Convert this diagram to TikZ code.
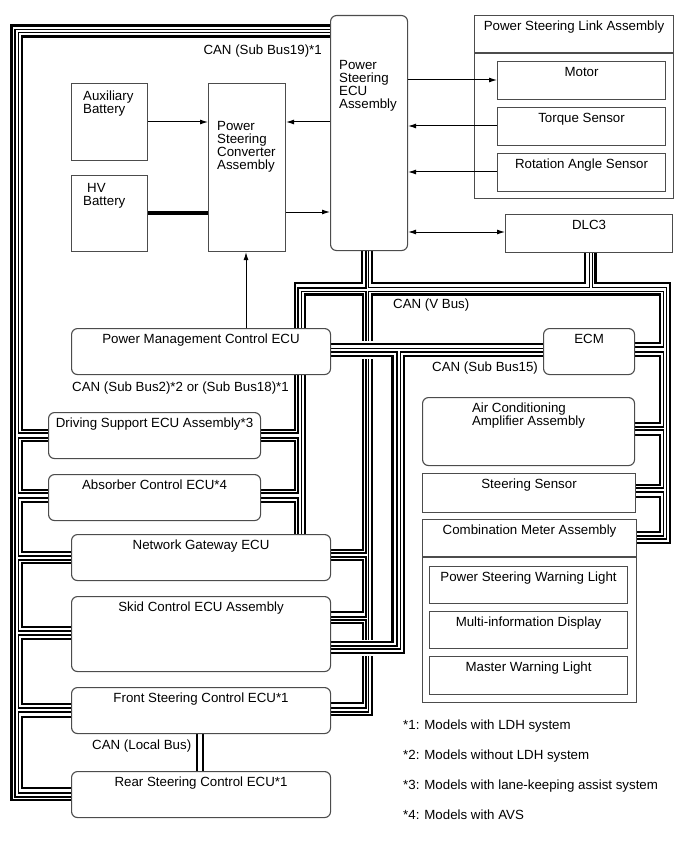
\documentclass[tikz,border=0pt]{standalone}
\usepackage{fontspec}
\setmainfont{Liberation Sans}
\usetikzlibrary{positioning,arrows.meta,backgrounds}

\tikzset{
  box/.style={draw=black!70, fill=white, line width=1.1pt, inner sep=0pt, anchor=north west},
  ecu/.style={box, rounded corners=6pt},
  txt/.style={inner sep=0pt, anchor=north, font=\fontsize{13.3}{13}\selectfont},
  wire/.style={line width=1pt, -{Latex[length=8pt,width=5pt]}},
  canh/.style={line width=2.6pt},
  canl/.style={line width=1.1pt},
}

\begin{document}
\begin{tikzpicture}[x=1pt, y=-1pt]
  \useasboundingbox (0,0) rectangle (689,853);

  % boxes
  \node[ecu, minimum width=77, minimum height=235] (psecu) at (330,15) {};
  \node[box, minimum width=199, minimum height=183] (pslink) at (474,15) {};
  \draw[draw=black!70, line width=1.1pt] (pslink.west |- 0,53) -- (pslink.east |- 0,53);
  \node[box, minimum width=168, minimum height=38] (motor) at (497,61) {};
  \node[box, minimum width=168, minimum height=38] (torque) at (497,107) {};
  \node[box, minimum width=168, minimum height=38] (rotang) at (497,153) {};
  \node[box, minimum width=167, minimum height=38] (dlc) at (505,214) {};
  \node[box, minimum width=76, minimum height=77] (auxbat) at (71,83) {};
  \node[box, minimum width=76, minimum height=76] (hvbat) at (71,175) {};
  \node[box, minimum width=77, minimum height=168] (conv) at (208,83) {};
  \node[ecu, minimum width=259, minimum height=46] (pmc) at (71,328) {};
  \node[ecu, minimum width=91, minimum height=46] (ecm) at (543,328) {};
  \node[ecu, minimum width=212, minimum height=46] (dsecu) at (48,412) {};
  \node[ecu, minimum width=212, minimum height=46] (absecu) at (48,474) {};
  \node[ecu, minimum width=259, minimum height=46] (ngecu) at (71,534) {};
  \node[ecu, minimum width=259, minimum height=75] (skid) at (71,596) {};
  \node[ecu, minimum width=259, minimum height=46] (fsecu) at (71,687) {};
  \node[ecu, minimum width=259, minimum height=46] (rsecu) at (71,771) {};
  \node[ecu, minimum width=212, minimum height=68] (aircon) at (422,397) {};
  \node[box, minimum width=213, minimum height=39] (strsen) at (422,473) {};
  \node[box, minimum width=214, minimum height=183] (combm) at (422,519) {};
  \draw[draw=black!70, line width=1.1pt] (combm.west |- 0,557) -- (combm.east |- 0,557);
  \node[box, minimum width=198, minimum height=37] (pswl) at (429,566) {};
  \node[box, minimum width=198, minimum height=37] (mid) at (429,611) {};
  \node[box, minimum width=198, minimum height=38] (mwl) at (429,656) {};

  % texts
  \node[txt, align=left, anchor=north west] at (339,60) {Power\\Steering\\ECU\\Assembly};
  \node[txt, below=6pt of pslink.north] {Power Steering Link Assembly};
  \node[txt, below=6pt of motor.north] {Motor};
  \node[txt, below=6pt of torque.north] {Torque Sensor};
  \node[txt, below=6pt of rotang.north] {Rotation Angle Sensor};
  \node[txt, below=6pt of dlc.north] {DLC3};
  \node[txt, align=left, anchor=north west] at (83,91) {Auxiliary\\Battery};
  \node[txt, align=left, anchor=north west] at (83,183) {\hspace{4pt}HV\\Battery};
  \node[txt, align=left, anchor=north west] at (217,121) {Power\\Steering\\Converter\\Assembly};
  \node[txt, below=6pt of pmc.north] {Power Management Control ECU};
  \node[txt, below=6pt of ecm.north] {ECM};
  \node[txt, below=6pt of dsecu.north] {Driving Support ECU Assembly*3};
  \node[txt, below=6pt of absecu.north] {Absorber Control ECU*4};
  \node[txt, below=6pt of ngecu.north] {Network Gateway ECU};
  \node[txt, below=6pt of skid.north] {Skid Control ECU Assembly};
  \node[txt, below=6pt of fsecu.north] {Front Steering Control ECU*1};
  \node[txt, below=6pt of rsecu.north] {Rear Steering Control ECU*1};
  \node[txt, align=left, below=6pt of aircon.north] {Air Conditioning\\Amplifier Assembly};
  \node[txt, below=6pt of strsen.north] {Steering Sensor};
  \node[txt, below=6pt of combm.north] {Combination Meter Assembly};
  \node[txt, below=6pt of pswl.north] {Power Steering Warning Light};
  \node[txt, below=6pt of mid.north] {Multi-information Display};
  \node[txt, below=6pt of mwl.north] {Master Warning Light};

  % bus labels
  \node[txt, anchor=north east] (lbsub19) at (322,45) {CAN (Sub Bus19)*1};
  \node[txt, anchor=north west] (lbsub2) at (72,382) {CAN (Sub Bus2)*2 or (Sub Bus18)*1};
  \node[txt, anchor=north west] (lbvbus) at (393,299) {CAN (V Bus)};
  \node[txt, anchor=north west] (lbsub15) at (432,362) {CAN (Sub Bus15)};
  \node[txt, anchor=north west] (lblocal) at (92,740) {CAN (Local Bus)};

  % notes
  \node[txt, anchor=north west] at (403,720) {*1: Models with LDH system};
  \node[txt, anchor=north west] at (403,750) {*2: Models without LDH system};
  \node[txt, anchor=north west] at (403,780) {*3: Models with lane-keeping assist system};
  \node[txt, anchor=north west] at (403,810) {*4: Models with AVS};

  % signal wires
  \draw[wire] (auxbat.east |- 0,122) -- (conv.west |- 0,122);
  \draw[wire] (psecu.west |- 0,122) -- (conv.east |- 0,122);
  \draw[wire] (conv.east |- 0,212) -- (psecu.west |- 0,212);
  \draw[line width=4.5pt] (hvbat.east |- 0,213) -- (conv.west |- 0,213);
  \draw[wire] (pmc.north -| 246,0) -- (conv.south -| 246,0);
  \draw[wire] (psecu.east |- 0,80) -- (motor.west |- 0,80);
  \draw[wire] (torque.west |- 0,126) -- (psecu.east |- 0,126);
  \draw[wire] (rotang.west |- 0,172) -- (psecu.east |- 0,172);
  \draw[wire, {Latex[length=8pt,width=5pt]}-{Latex[length=8pt,width=5pt]}] (psecu.east |- 0,232) -- (dlc.west |- 0,232);

  \begin{scope}[on background layer]
  % CAN Sub Bus19, outer pair
  \draw[canh] (psecu.west |- 0,25.3) -- (11.3,25.3) -- (11.3,800) -- (rsecu.west |- 0,800);
  \draw[canl] (psecu.west |- 0,29.3) -- (15,29.3) -- (15,797) -- (rsecu.west |- 0,797);
  % inner pair, left chain
  \draw[canh] (psecu.west |- 0,36.3) -- (22,36.3) -- (22,430) -- (dsecu.west |- 0,430);
  \draw[canl] (psecu.west |- 0,32.3) -- (18.3,32.3) -- (18.3,433) -- (dsecu.west |- 0,433);
  \draw[canh] (dsecu.west |- 0,441) -- (22,441) -- (22,490) -- (absecu.west |- 0,490);
  \draw[canl] (dsecu.west |- 0,438) -- (18.3,438) -- (18.3,493) -- (absecu.west |- 0,493);
  \draw[canh] (absecu.west |- 0,502) -- (22,502) -- (22,552) -- (ngecu.west |- 0,552);
  \draw[canl] (absecu.west |- 0,498) -- (18.3,498) -- (18.3,556) -- (ngecu.west |- 0,556);
  \draw[canh] (ngecu.west |- 0,563) -- (22,563) -- (22,627) -- (skid.west |- 0,627);
  \draw[canl] (ngecu.west |- 0,560) -- (18.3,560) -- (18.3,631) -- (skid.west |- 0,631);
  \draw[canh] (skid.west |- 0,639) -- (22,639) -- (22,704) -- (fsecu.west |- 0,704);
  \draw[canl] (skid.west |- 0,635) -- (18.3,635) -- (18.3,708) -- (fsecu.west |- 0,708);
  \draw[canh] (fsecu.west |- 0,717) -- (22,717) -- (22,788) -- (rsecu.west |- 0,788);
  \draw[canl] (fsecu.west |- 0,712) -- (18.3,712) -- (18.3,793) -- (rsecu.west |- 0,793);

  % Sub Bus2 / Sub Bus18
  \draw[canh] (psecu.south -| 362,0) -- (362,283) -- (295,283) -- (pmc.north -| 295,0);
  \draw[canl] (psecu.south -| 366,0) -- (366,288) -- (298,288) -- (pmc.north -| 298,0);
  \draw[canh] (pmc.south -| 295,0) -- (295,430) -- (dsecu.east |- 0,430);
  \draw[canl] (pmc.south -| 298,0) -- (298,433) -- (dsecu.east |- 0,433);
  \draw[canh] (dsecu.east |- 0,441) -- (295,441) -- (295,490) -- (absecu.east |- 0,490);
  \draw[canl] (dsecu.east |- 0,438) -- (298,438) -- (298,493) -- (absecu.east |- 0,493);
  \draw[canh] (absecu.east |- 0,502) -- (295,502) -- (ngecu.north -| 295,0);
  \draw[canl] (absecu.east |- 0,498) -- (298,498) -- (ngecu.north -| 298,0);

  % V Bus
  \draw[canh] (psecu.south -| 372,0) -- (372,283) -- (585,283) -- (dlc.south -| 585,0);
  \draw[canl] (psecu.south -| 368.5,0) -- (368.5,287.5) -- (589.5,287.5) -- (dlc.south -| 589.5,0);
  \draw[canh] (dlc.south -| 595.5,0) -- (595.5,283) -- (670,283) -- (670,543) -- (combm.east |- 0,543);
  \draw[canl] (dlc.south -| 592.5,0) -- (592.5,287.5) -- (666.5,287.5) -- (666.5,539) -- (combm.east |- 0,539);
  \draw[canh] (ngecu.east |- 0,550) -- (363,550) -- (363,294.5) -- (305,294.5) -- (pmc.north -| 305,0);
  \draw[canl] (ngecu.east |- 0,553) -- (366,553) -- (366,291.5) -- (301.5,291.5) -- (pmc.north -| 301.5,0);
  \draw[canh] (pmc.south -| 305,0) -- (ngecu.north -| 305,0);
  \draw[canl] (pmc.south -| 301.5,0) -- (ngecu.north -| 301.5,0);
  \draw[canh] (ecm.east |- 0,343) -- (660,343) -- (660,294.5) -- (372,294.5) -- (372,715) -- (fsecu.east |- 0,715);
  \draw[canl] (ecm.east |- 0,347) -- (663.5,347) -- (663.5,291.5) -- (368.5,291.5) -- (368.5,712) -- (fsecu.east |- 0,712);
  \draw[canh] (ngecu.east |- 0,560) -- (363,560) -- (363,612) -- (skid.east |- 0,612);
  \draw[canl] (ngecu.east |- 0,557) -- (366,557) -- (366,617) -- (skid.east |- 0,617);
  \draw[canh] (skid.east |- 0,623) -- (363,623) -- (363,703) -- (fsecu.east |- 0,703);
  \draw[canl] (skid.east |- 0,620) -- (366,620) -- (366,708) -- (fsecu.east |- 0,708);
  % crossings
  \fill[white] (359.5,340.5) rectangle (375.5,359);
  \fill[white] (359.5,639.5) rectangle (375.5,656);
  \draw[canh] (pmc.east |- 0,344) -- (ecm.west |- 0,344);
  \draw[canl] (pmc.east |- 0,348.5) -- (ecm.west |- 0,348.5);

  % Sub Bus15
  \draw[canh] (pmc.east |- 0,356) -- (392.5,356) -- (392.5,642) -- (skid.east |- 0,642);
  \draw[canl] (pmc.east |- 0,352) -- (397,352) -- (397,646) -- (skid.east |- 0,646);
  \draw[canh] (ecm.west |- 0,356) -- (404,356) -- (404,653) -- (skid.east |- 0,653);
  \draw[canl] (ecm.west |- 0,352) -- (400.5,352) -- (400.5,649) -- (skid.east |- 0,649);
  \draw[canh] (ecm.east |- 0,356) -- (660,356) -- (660,423) -- (aircon.east |- 0,423);
  \draw[canl] (ecm.east |- 0,352) -- (663.5,352) -- (663.5,427) -- (aircon.east |- 0,427);
  \draw[canh] (aircon.east |- 0,435) -- (660,435) -- (660,485) -- (strsen.east |- 0,485);
  \draw[canl] (aircon.east |- 0,430) -- (663.5,430) -- (663.5,488) -- (strsen.east |- 0,488);
  \draw[canh] (strsen.east |- 0,497) -- (660,497) -- (660,532) -- (combm.east |- 0,532);
  \draw[canl] (strsen.east |- 0,492) -- (663.5,492) -- (663.5,536) -- (combm.east |- 0,536);

  % Local Bus
  \draw[canh] (fsecu.south -| 203,0) -- (rsecu.north -| 203,0);
  \draw[canl] (fsecu.south -| 197,0) -- (rsecu.north -| 197,0);
  \end{scope}
\end{tikzpicture}
\end{document}
